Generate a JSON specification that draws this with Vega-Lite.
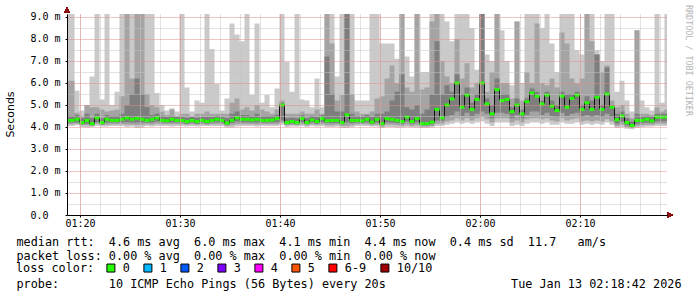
{
  "$schema": "https://vega.github.io/schema/vega-lite/v6.json",
  "width": 600,
  "height": 201,
  "autosize": {"type": "none"},
  "padding": {"left": 67, "top": 14, "right": 30, "bottom": 82},
  "background": "#ffffff",
  "config": {
    "view": {"stroke": null},
    "font": "DejaVu Sans Mono",
    "axis": {"labelFont": "DejaVu Sans Mono", "labelColor": "#000000", "titleColor": "#000000", "titleFontWeight": "normal", "labelFlush": false, "labelOverlap": false}
  },
  "data": {"values": [
    {"t":"2026-01-13T01:18:42Z","m":4.30,"lo":4.05,"ml":4.12,"dl":4.20,"dh":4.50,"mh":6.10,"hi":9.14,"loss":"0"},
    {"t":"2026-01-13T01:19:12Z","m":4.30,"lo":4.05,"ml":4.12,"dl":4.20,"dh":4.50,"mh":6.10,"hi":9.14,"loss":"0"},
    {"t":"2026-01-13T01:19:42Z","m":4.35,"lo":4.08,"ml":4.15,"dl":4.22,"dh":4.55,"mh":4.65,"hi":5.65,"loss":"0"},
    {"t":"2026-01-13T01:20:12Z","m":4.20,"lo":4.00,"ml":4.08,"dl":4.12,"dh":4.40,"mh":4.50,"hi":4.75,"loss":"0"},
    {"t":"2026-01-13T01:20:42Z","m":4.30,"lo":3.98,"ml":4.08,"dl":4.15,"dh":4.60,"mh":5.00,"hi":5.00,"loss":"0"},
    {"t":"2026-01-13T01:21:12Z","m":4.15,"lo":4.00,"ml":4.05,"dl":4.10,"dh":4.40,"mh":4.90,"hi":6.30,"loss":"0"},
    {"t":"2026-01-13T01:21:42Z","m":4.42,"lo":4.05,"ml":4.15,"dl":4.22,"dh":4.60,"mh":4.90,"hi":9.14,"loss":"0"},
    {"t":"2026-01-13T01:22:12Z","m":4.20,"lo":4.02,"ml":4.08,"dl":4.12,"dh":4.40,"mh":4.80,"hi":5.25,"loss":"0"},
    {"t":"2026-01-13T01:22:42Z","m":4.35,"lo":4.02,"ml":4.10,"dl":4.20,"dh":4.55,"mh":4.70,"hi":9.14,"loss":"0"},
    {"t":"2026-01-13T01:23:12Z","m":4.30,"lo":4.05,"ml":4.12,"dl":4.20,"dh":4.50,"mh":4.75,"hi":5.00,"loss":"0"},
    {"t":"2026-01-13T01:23:42Z","m":4.30,"lo":4.05,"ml":4.12,"dl":4.20,"dh":4.50,"mh":4.80,"hi":5.60,"loss":"0"},
    {"t":"2026-01-13T01:24:12Z","m":4.35,"lo":4.05,"ml":4.12,"dl":4.22,"dh":4.60,"mh":5.40,"hi":9.14,"loss":"0"},
    {"t":"2026-01-13T01:24:42Z","m":4.42,"lo":4.00,"ml":4.10,"dl":4.22,"dh":5.00,"mh":9.14,"hi":9.14,"loss":"0"},
    {"t":"2026-01-13T01:25:12Z","m":4.35,"lo":4.02,"ml":4.10,"dl":4.20,"dh":5.50,"mh":6.20,"hi":9.14,"loss":"0"},
    {"t":"2026-01-13T01:25:42Z","m":4.40,"lo":3.95,"ml":4.08,"dl":4.20,"dh":6.20,"mh":9.14,"hi":9.14,"loss":"0"},
    {"t":"2026-01-13T01:26:12Z","m":4.35,"lo":3.98,"ml":4.10,"dl":4.20,"dh":5.50,"mh":9.14,"hi":9.14,"loss":"0"},
    {"t":"2026-01-13T01:26:42Z","m":4.30,"lo":4.05,"ml":4.12,"dl":4.20,"dh":4.90,"mh":5.50,"hi":9.14,"loss":"0"},
    {"t":"2026-01-13T01:27:12Z","m":4.35,"lo":4.02,"ml":4.10,"dl":4.20,"dh":4.55,"mh":5.00,"hi":9.14,"loss":"0"},
    {"t":"2026-01-13T01:27:42Z","m":4.42,"lo":4.05,"ml":4.15,"dl":4.25,"dh":4.60,"mh":4.90,"hi":5.55,"loss":"0"},
    {"t":"2026-01-13T01:28:12Z","m":4.30,"lo":4.05,"ml":4.12,"dl":4.20,"dh":4.50,"mh":4.70,"hi":5.00,"loss":"0"},
    {"t":"2026-01-13T01:28:42Z","m":4.28,"lo":4.05,"ml":4.12,"dl":4.18,"dh":4.45,"mh":4.55,"hi":4.75,"loss":"0"},
    {"t":"2026-01-13T01:29:12Z","m":4.35,"lo":4.02,"ml":4.12,"dl":4.20,"dh":4.50,"mh":4.80,"hi":4.85,"loss":"0"},
    {"t":"2026-01-13T01:29:42Z","m":4.30,"lo":4.05,"ml":4.12,"dl":4.20,"dh":4.45,"mh":4.50,"hi":4.70,"loss":"0"},
    {"t":"2026-01-13T01:30:12Z","m":4.30,"lo":4.05,"ml":4.12,"dl":4.20,"dh":4.45,"mh":4.60,"hi":9.14,"loss":"0"},
    {"t":"2026-01-13T01:30:42Z","m":4.25,"lo":4.02,"ml":4.10,"dl":4.15,"dh":4.42,"mh":4.60,"hi":5.80,"loss":"0"},
    {"t":"2026-01-13T01:31:12Z","m":4.30,"lo":4.05,"ml":4.12,"dl":4.20,"dh":4.45,"mh":4.50,"hi":4.70,"loss":"0"},
    {"t":"2026-01-13T01:31:42Z","m":4.25,"lo":4.02,"ml":4.10,"dl":4.15,"dh":4.42,"mh":4.60,"hi":5.20,"loss":"0"},
    {"t":"2026-01-13T01:32:12Z","m":4.30,"lo":4.05,"ml":4.12,"dl":4.20,"dh":4.45,"mh":4.60,"hi":5.10,"loss":"0"},
    {"t":"2026-01-13T01:32:42Z","m":4.25,"lo":4.05,"ml":4.10,"dl":4.15,"dh":4.45,"mh":4.70,"hi":9.14,"loss":"0"},
    {"t":"2026-01-13T01:33:12Z","m":4.30,"lo":4.05,"ml":4.12,"dl":4.20,"dh":4.45,"mh":4.60,"hi":7.55,"loss":"0"},
    {"t":"2026-01-13T01:33:42Z","m":4.35,"lo":4.05,"ml":4.12,"dl":4.22,"dh":4.50,"mh":4.60,"hi":5.95,"loss":"0"},
    {"t":"2026-01-13T01:34:12Z","m":4.30,"lo":4.05,"ml":4.12,"dl":4.20,"dh":4.45,"mh":4.60,"hi":4.75,"loss":"0"},
    {"t":"2026-01-13T01:34:42Z","m":4.18,"lo":3.98,"ml":4.05,"dl":4.10,"dh":4.40,"mh":4.60,"hi":5.30,"loss":"0"},
    {"t":"2026-01-13T01:35:12Z","m":4.30,"lo":3.98,"ml":4.08,"dl":4.18,"dh":4.60,"mh":5.10,"hi":8.70,"loss":"0"},
    {"t":"2026-01-13T01:35:42Z","m":4.42,"lo":4.02,"ml":4.12,"dl":4.25,"dh":4.70,"mh":5.30,"hi":8.20,"loss":"0"},
    {"t":"2026-01-13T01:36:12Z","m":4.35,"lo":4.05,"ml":4.12,"dl":4.22,"dh":4.55,"mh":4.80,"hi":7.90,"loss":"0"},
    {"t":"2026-01-13T01:36:42Z","m":4.35,"lo":4.05,"ml":4.12,"dl":4.22,"dh":4.55,"mh":4.90,"hi":9.14,"loss":"0"},
    {"t":"2026-01-13T01:37:12Z","m":4.32,"lo":4.05,"ml":4.12,"dl":4.20,"dh":4.50,"mh":4.75,"hi":5.45,"loss":"0"},
    {"t":"2026-01-13T01:37:42Z","m":4.35,"lo":4.02,"ml":4.10,"dl":4.20,"dh":4.60,"mh":5.00,"hi":8.70,"loss":"0"},
    {"t":"2026-01-13T01:38:12Z","m":4.30,"lo":4.05,"ml":4.12,"dl":4.20,"dh":4.50,"mh":4.80,"hi":5.10,"loss":"0"},
    {"t":"2026-01-13T01:38:42Z","m":4.30,"lo":4.05,"ml":4.12,"dl":4.20,"dh":4.50,"mh":4.70,"hi":5.45,"loss":"0"},
    {"t":"2026-01-13T01:39:12Z","m":4.32,"lo":4.05,"ml":4.12,"dl":4.20,"dh":4.50,"mh":4.60,"hi":4.90,"loss":"0"},
    {"t":"2026-01-13T01:39:42Z","m":4.38,"lo":4.05,"ml":4.12,"dl":4.22,"dh":4.55,"mh":4.80,"hi":5.75,"loss":"0"},
    {"t":"2026-01-13T01:40:12Z","m":5.00,"lo":4.10,"ml":4.20,"dl":4.30,"dh":5.10,"mh":5.20,"hi":9.14,"loss":"0"},
    {"t":"2026-01-13T01:40:42Z","m":4.20,"lo":4.00,"ml":4.08,"dl":4.12,"dh":4.40,"mh":4.60,"hi":6.95,"loss":"0"},
    {"t":"2026-01-13T01:41:12Z","m":4.25,"lo":4.02,"ml":4.10,"dl":4.15,"dh":4.42,"mh":4.60,"hi":5.60,"loss":"0"},
    {"t":"2026-01-13T01:41:42Z","m":4.20,"lo":4.02,"ml":4.08,"dl":4.12,"dh":4.40,"mh":4.60,"hi":9.14,"loss":"0"},
    {"t":"2026-01-13T01:42:12Z","m":4.38,"lo":4.05,"ml":4.12,"dl":4.22,"dh":4.55,"mh":4.70,"hi":5.25,"loss":"0"},
    {"t":"2026-01-13T01:42:42Z","m":4.20,"lo":4.00,"ml":4.08,"dl":4.12,"dh":4.40,"mh":4.60,"hi":5.20,"loss":"0"},
    {"t":"2026-01-13T01:43:12Z","m":4.32,"lo":4.05,"ml":4.12,"dl":4.20,"dh":4.50,"mh":4.60,"hi":4.90,"loss":"0"},
    {"t":"2026-01-13T01:43:42Z","m":4.25,"lo":4.02,"ml":4.10,"dl":4.15,"dh":4.45,"mh":4.80,"hi":6.20,"loss":"0"},
    {"t":"2026-01-13T01:44:12Z","m":4.38,"lo":4.05,"ml":4.12,"dl":4.22,"dh":4.55,"mh":4.60,"hi":4.90,"loss":"0"},
    {"t":"2026-01-13T01:44:42Z","m":4.28,"lo":4.00,"ml":4.08,"dl":4.18,"dh":7.20,"mh":9.14,"hi":9.14,"loss":"0"},
    {"t":"2026-01-13T01:45:12Z","m":4.30,"lo":4.00,"ml":4.08,"dl":4.18,"dh":5.50,"mh":7.80,"hi":9.14,"loss":"0"},
    {"t":"2026-01-13T01:45:42Z","m":4.30,"lo":4.02,"ml":4.10,"dl":4.18,"dh":4.70,"mh":5.20,"hi":6.30,"loss":"0"},
    {"t":"2026-01-13T01:46:12Z","m":4.20,"lo":3.95,"ml":4.05,"dl":4.12,"dh":4.70,"mh":5.45,"hi":9.14,"loss":"0"},
    {"t":"2026-01-13T01:46:42Z","m":4.55,"lo":3.95,"ml":4.05,"dl":4.20,"dh":9.14,"mh":9.14,"hi":9.14,"loss":"0"},
    {"t":"2026-01-13T01:47:12Z","m":4.30,"lo":4.00,"ml":4.08,"dl":4.18,"dh":4.60,"mh":5.50,"hi":9.14,"loss":"0"},
    {"t":"2026-01-13T01:47:42Z","m":4.30,"lo":4.05,"ml":4.12,"dl":4.20,"dh":4.50,"mh":4.70,"hi":5.20,"loss":"0"},
    {"t":"2026-01-13T01:48:12Z","m":4.28,"lo":4.05,"ml":4.12,"dl":4.18,"dh":4.48,"mh":4.60,"hi":5.20,"loss":"0"},
    {"t":"2026-01-13T01:48:42Z","m":4.35,"lo":4.05,"ml":4.12,"dl":4.22,"dh":4.55,"mh":4.60,"hi":5.20,"loss":"0"},
    {"t":"2026-01-13T01:49:12Z","m":4.22,"lo":4.02,"ml":4.08,"dl":4.14,"dh":4.45,"mh":4.70,"hi":9.14,"loss":"0"},
    {"t":"2026-01-13T01:49:42Z","m":4.35,"lo":4.02,"ml":4.10,"dl":4.20,"dh":4.60,"mh":5.30,"hi":9.14,"loss":"0"},
    {"t":"2026-01-13T01:50:12Z","m":4.15,"lo":3.95,"ml":4.02,"dl":4.08,"dh":4.60,"mh":5.40,"hi":7.80,"loss":"0"},
    {"t":"2026-01-13T01:50:42Z","m":4.38,"lo":4.00,"ml":4.10,"dl":4.22,"dh":4.70,"mh":6.20,"hi":7.80,"loss":"0"},
    {"t":"2026-01-13T01:51:12Z","m":4.35,"lo":4.00,"ml":4.10,"dl":4.20,"dh":5.20,"mh":6.80,"hi":7.80,"loss":"0"},
    {"t":"2026-01-13T01:51:42Z","m":4.30,"lo":3.98,"ml":4.08,"dl":4.18,"dh":5.60,"mh":6.00,"hi":7.10,"loss":"0"},
    {"t":"2026-01-13T01:52:12Z","m":4.25,"lo":3.98,"ml":4.05,"dl":4.15,"dh":6.40,"mh":9.14,"hi":9.14,"loss":"0"},
    {"t":"2026-01-13T01:52:42Z","m":4.45,"lo":4.00,"ml":4.10,"dl":4.25,"dh":4.90,"mh":5.80,"hi":7.20,"loss":"0"},
    {"t":"2026-01-13T01:53:12Z","m":4.25,"lo":3.98,"ml":4.05,"dl":4.15,"dh":4.80,"mh":5.60,"hi":6.30,"loss":"0"},
    {"t":"2026-01-13T01:53:42Z","m":4.38,"lo":3.98,"ml":4.08,"dl":4.20,"dh":5.00,"mh":9.14,"hi":9.14,"loss":"0"},
    {"t":"2026-01-13T01:54:12Z","m":4.15,"lo":3.95,"ml":4.02,"dl":4.08,"dh":4.60,"mh":5.70,"hi":6.50,"loss":"0"},
    {"t":"2026-01-13T01:54:42Z","m":4.15,"lo":3.95,"ml":4.02,"dl":4.08,"dh":4.80,"mh":5.80,"hi":6.50,"loss":"0"},
    {"t":"2026-01-13T01:55:12Z","m":4.22,"lo":3.98,"ml":4.05,"dl":4.12,"dh":5.50,"mh":8.80,"hi":9.14,"loss":"0"},
    {"t":"2026-01-13T01:55:42Z","m":4.80,"lo":4.05,"ml":4.15,"dl":4.30,"dh":7.90,"mh":9.14,"hi":9.14,"loss":"0"},
    {"t":"2026-01-13T01:56:12Z","m":4.42,"lo":4.05,"ml":4.15,"dl":4.28,"dh":5.50,"mh":7.00,"hi":9.14,"loss":"0"},
    {"t":"2026-01-13T01:56:42Z","m":5.00,"lo":4.10,"ml":4.25,"dl":4.45,"dh":5.90,"mh":6.30,"hi":8.80,"loss":"0"},
    {"t":"2026-01-13T01:57:12Z","m":5.28,"lo":4.15,"ml":4.30,"dl":4.55,"dh":5.60,"mh":6.00,"hi":7.90,"loss":"0"},
    {"t":"2026-01-13T01:57:42Z","m":6.00,"lo":4.20,"ml":4.40,"dl":4.70,"dh":6.40,"mh":8.00,"hi":9.14,"loss":"0"},
    {"t":"2026-01-13T01:58:12Z","m":4.90,"lo":4.15,"ml":4.30,"dl":4.50,"dh":5.50,"mh":6.20,"hi":9.14,"loss":"0"},
    {"t":"2026-01-13T01:58:42Z","m":5.45,"lo":4.20,"ml":4.40,"dl":4.65,"dh":5.80,"mh":6.90,"hi":9.14,"loss":"0"},
    {"t":"2026-01-13T01:59:12Z","m":4.80,"lo":4.15,"ml":4.30,"dl":4.50,"dh":5.10,"mh":5.80,"hi":8.50,"loss":"0"},
    {"t":"2026-01-13T01:59:42Z","m":5.25,"lo":4.20,"ml":4.40,"dl":4.60,"dh":5.50,"mh":6.00,"hi":6.60,"loss":"0"},
    {"t":"2026-01-13T02:00:12Z","m":6.00,"lo":4.25,"ml":4.45,"dl":4.70,"dh":9.14,"mh":9.14,"hi":9.14,"loss":"0"},
    {"t":"2026-01-13T02:00:42Z","m":5.05,"lo":4.15,"ml":4.35,"dl":4.60,"dh":5.30,"mh":5.60,"hi":7.30,"loss":"0"},
    {"t":"2026-01-13T02:01:12Z","m":4.60,"lo":4.05,"ml":4.20,"dl":4.40,"dh":5.00,"mh":6.50,"hi":7.00,"loss":"0"},
    {"t":"2026-01-13T02:01:42Z","m":5.70,"lo":4.20,"ml":4.40,"dl":4.65,"dh":6.20,"mh":9.14,"hi":9.14,"loss":"0"},
    {"t":"2026-01-13T02:02:12Z","m":5.20,"lo":4.20,"ml":4.40,"dl":4.65,"dh":5.50,"mh":6.00,"hi":8.40,"loss":"0"},
    {"t":"2026-01-13T02:02:42Z","m":5.25,"lo":4.20,"ml":4.40,"dl":4.60,"dh":5.50,"mh":6.00,"hi":7.00,"loss":"0"},
    {"t":"2026-01-13T02:03:12Z","m":4.70,"lo":4.05,"ml":4.20,"dl":4.40,"dh":4.90,"mh":5.30,"hi":5.90,"loss":"0"},
    {"t":"2026-01-13T02:03:42Z","m":5.00,"lo":4.10,"ml":4.30,"dl":4.55,"dh":5.30,"mh":8.80,"hi":8.80,"loss":"0"},
    {"t":"2026-01-13T02:04:12Z","m":4.60,"lo":4.05,"ml":4.20,"dl":4.40,"dh":4.80,"mh":5.20,"hi":6.00,"loss":"0"},
    {"t":"2026-01-13T02:04:42Z","m":5.15,"lo":4.15,"ml":4.35,"dl":4.55,"dh":5.30,"mh":6.50,"hi":9.14,"loss":"0"},
    {"t":"2026-01-13T02:05:12Z","m":5.55,"lo":4.20,"ml":4.40,"dl":4.70,"dh":5.75,"mh":6.00,"hi":9.14,"loss":"0"},
    {"t":"2026-01-13T02:05:42Z","m":5.40,"lo":4.20,"ml":4.40,"dl":4.70,"dh":5.60,"mh":8.70,"hi":9.14,"loss":"0"},
    {"t":"2026-01-13T02:06:12Z","m":5.05,"lo":4.15,"ml":4.35,"dl":4.55,"dh":5.20,"mh":6.00,"hi":8.50,"loss":"0"},
    {"t":"2026-01-13T02:06:42Z","m":5.45,"lo":4.20,"ml":4.40,"dl":4.65,"dh":5.60,"mh":5.90,"hi":9.14,"loss":"0"},
    {"t":"2026-01-13T02:07:12Z","m":4.95,"lo":4.10,"ml":4.30,"dl":4.50,"dh":5.20,"mh":6.20,"hi":7.80,"loss":"0"},
    {"t":"2026-01-13T02:07:42Z","m":4.75,"lo":4.10,"ml":4.25,"dl":4.45,"dh":5.00,"mh":5.80,"hi":6.50,"loss":"0"},
    {"t":"2026-01-13T02:08:12Z","m":5.40,"lo":4.20,"ml":4.40,"dl":4.65,"dh":5.60,"mh":8.30,"hi":9.14,"loss":"0"},
    {"t":"2026-01-13T02:08:42Z","m":4.90,"lo":4.15,"ml":4.30,"dl":4.50,"dh":5.50,"mh":7.80,"hi":9.14,"loss":"0"},
    {"t":"2026-01-13T02:09:12Z","m":5.30,"lo":4.15,"ml":4.35,"dl":4.60,"dh":5.50,"mh":6.20,"hi":9.14,"loss":"0"},
    {"t":"2026-01-13T02:09:42Z","m":5.45,"lo":4.20,"ml":4.40,"dl":4.65,"dh":5.60,"mh":6.00,"hi":7.50,"loss":"0"},
    {"t":"2026-01-13T02:10:12Z","m":4.80,"lo":4.10,"ml":4.25,"dl":4.45,"dh":5.00,"mh":6.20,"hi":7.30,"loss":"0"},
    {"t":"2026-01-13T02:10:42Z","m":5.10,"lo":4.15,"ml":4.30,"dl":4.55,"dh":5.40,"mh":9.14,"hi":9.14,"loss":"0"},
    {"t":"2026-01-13T02:11:12Z","m":4.80,"lo":4.10,"ml":4.25,"dl":4.45,"dh":5.20,"mh":7.90,"hi":9.14,"loss":"0"},
    {"t":"2026-01-13T02:11:42Z","m":5.35,"lo":4.15,"ml":4.30,"dl":4.55,"dh":7.30,"mh":7.30,"hi":7.50,"loss":"0"},
    {"t":"2026-01-13T02:12:12Z","m":4.80,"lo":4.10,"ml":4.25,"dl":4.45,"dh":5.00,"mh":6.50,"hi":7.00,"loss":"0"},
    {"t":"2026-01-13T02:12:42Z","m":5.50,"lo":4.20,"ml":4.35,"dl":4.60,"dh":6.70,"mh":6.80,"hi":9.14,"loss":"0"},
    {"t":"2026-01-13T02:13:12Z","m":4.90,"lo":4.10,"ml":4.25,"dl":4.45,"dh":5.00,"mh":5.20,"hi":9.14,"loss":"0"},
    {"t":"2026-01-13T02:13:42Z","m":4.33,"lo":3.95,"ml":4.05,"dl":4.15,"dh":4.60,"mh":4.90,"hi":5.60,"loss":"0"},
    {"t":"2026-01-13T02:14:12Z","m":4.50,"lo":4.00,"ml":4.10,"dl":4.25,"dh":4.70,"mh":5.00,"hi":6.10,"loss":"0"},
    {"t":"2026-01-13T02:14:42Z","m":4.20,"lo":3.92,"ml":4.00,"dl":4.08,"dh":4.40,"mh":4.60,"hi":5.20,"loss":"0"},
    {"t":"2026-01-13T02:15:12Z","m":4.07,"lo":3.90,"ml":3.95,"dl":4.00,"dh":4.25,"mh":4.40,"hi":4.70,"loss":"0"},
    {"t":"2026-01-13T02:15:42Z","m":4.30,"lo":3.95,"ml":4.05,"dl":4.15,"dh":4.60,"mh":8.40,"hi":8.40,"loss":"0"},
    {"t":"2026-01-13T02:16:12Z","m":4.30,"lo":4.00,"ml":4.08,"dl":4.18,"dh":4.45,"mh":4.60,"hi":5.20,"loss":"0"},
    {"t":"2026-01-13T02:16:42Z","m":4.35,"lo":4.02,"ml":4.10,"dl":4.20,"dh":4.50,"mh":4.60,"hi":4.90,"loss":"0"},
    {"t":"2026-01-13T02:17:12Z","m":4.28,"lo":4.02,"ml":4.10,"dl":4.18,"dh":4.45,"mh":4.55,"hi":4.75,"loss":"0"},
    {"t":"2026-01-13T02:17:42Z","m":4.45,"lo":4.05,"ml":4.15,"dl":4.25,"dh":4.60,"mh":4.90,"hi":9.14,"loss":"0"},
    {"t":"2026-01-13T02:18:12Z","m":4.45,"lo":4.05,"ml":4.15,"dl":4.25,"dh":4.60,"mh":4.70,"hi":5.10,"loss":"0"},
    {"t":"2026-01-13T02:18:42Z","m":4.45,"lo":4.05,"ml":4.15,"dl":4.25,"dh":4.60,"mh":4.80,"hi":9.14,"loss":"0"}
  ]},
  "layer": [
    {
      "mark": {"type": "area", "interpolate": "step", "color": "#cacaca", "clip": true},
      "encoding": {
        "x": {"field": "t", "type": "temporal",
          "scale": {"type": "utc", "domain": [1768267122000, 1768270722000], "nice": false},
          "axis": {"orient": "bottom", "grid": true, "gridColor": "#c4c4c4", "gridDash": [1, 1],
            "values": [1768267200000, 1768267320000, 1768267440000, 1768267560000, 1768267680000, 1768267800000, 1768267920000, 1768268040000, 1768268160000, 1768268280000, 1768268400000, 1768268520000, 1768268640000, 1768268760000, 1768268880000, 1768269000000, 1768269120000, 1768269240000, 1768269360000, 1768269480000, 1768269600000, 1768269720000, 1768269840000, 1768269960000, 1768270080000, 1768270200000, 1768270320000, 1768270440000, 1768270560000, 1768270680000],
            "labels": false, "ticks": false, "domain": false, "title": null, "zindex": 1}},
        "y": {"field": "lo", "type": "quantitative",
          "scale": {"domain": [0, 9.13636], "nice": false, "zero": true},
          "axis": {"orient": "left", "grid": true, "gridColor": "#c4c4c4", "gridDash": [1, 1], "values": [0.5, 1.5, 2.5, 3.5, 4.5, 5.5, 6.5, 7.5, 8.5], "labels": false, "ticks": false, "domain": false, "title": null, "zindex": 1}},
        "y2": {"field": "hi"}
      }
    },
    {
      "mark": {"type": "area", "interpolate": "step", "color": "#a4a4a4", "clip": true},
      "encoding": {
        "x": {"field": "t", "type": "temporal",
          "axis": {"orient": "bottom", "grid": false, "labels": false, "ticks": false, "domain": false,
            "title": "Tue Jan 13 02:18:42 2026", "titleX": 614, "titleY": 72, "titleAlign": "right", "titleBaseline": "alphabetic", "titleFont": "DejaVu Sans Mono", "titleFontSize": 11.8, "titleFontWeight": "normal", "titleColor": "#000000"}},
        "y": {"field": "ml", "type": "quantitative",
          "axis": {"orient": "right", "grid": false, "labels": false, "ticks": false, "domain": false,
            "title": "RRDTOOL / TOBI OETIKER", "titleAngle": 90, "titleX": 21, "titleY": 46, "titleAlign": "center", "titleBaseline": "middle", "titleFont": "DejaVu Sans Mono", "titleFontSize": 8.4, "titleFontWeight": "normal", "titleColor": "#b4b4b4"}},
        "y2": {"field": "mh"}
      }
    },
    {
      "mark": {"type": "area", "interpolate": "step", "color": "#7e7e7e", "clip": true},
      "encoding": {
        "x": {"field": "t", "type": "temporal",
          "axis": {"orient": "bottom", "grid": false, "labels": false, "ticks": false, "domain": false,
            "title": "probe:\u00a0\u00a0\u00a0\u00a0\u00a0\u00a0\u00a010 ICMP Echo Pings (56 Bytes) every 20s", "titleX": -51, "titleY": 72, "titleAlign": "left", "titleBaseline": "alphabetic", "titleFont": "DejaVu Sans Mono", "titleFontSize": 11.8, "titleFontWeight": "normal", "titleColor": "#000000"}},
        "y": {"field": "dl", "type": "quantitative", "axis": null},
        "y2": {"field": "dh"}
      }
    },
    {
      "mark": {"type": "line", "interpolate": "step", "color": "#101010", "strokeWidth": 1, "clip": true},
      "encoding": {
        "x": {"field": "t", "type": "temporal",
          "axis": {"orient": "bottom", "grid": true, "gridColor": "#e08c8c", "gridDash": [1, 1],
            "values": [1768267200000, 1768267800000, 1768268400000, 1768269000000, 1768269600000, 1768270200000], "format": "%H:%M",
            "labelFontSize": 10, "labelPadding": 1, "tickSize": 2, "tickColor": "#000000", "domainColor": "#000000", "zindex": 1,
            "title": ["median rtt:\u00a0\u00a04.6 ms avg\u00a0\u00a06.0 ms max\u00a0\u00a04.1 ms min\u00a0\u00a04.4 ms now\u00a0\u00a00.4 ms sd\u00a0\u00a011.7\u00a0\u00a0\u00a0am/s", "packet loss: 0.00 % avg\u00a0\u00a00.00 % max\u00a0\u00a00.00 % min\u00a0\u00a00.00 % now"],
            "titleX": -51, "titleY": 21, "titleAlign": "left", "titleBaseline": "top", "titleLineHeight": 14, "titleFont": "DejaVu Sans Mono", "titleFontSize": 11.8}},
        "y": {"field": "m", "type": "quantitative",
          "axis": {"orient": "left", "grid": true, "gridColor": "#e08c8c", "gridDash": [1, 1], "values": [0, 1, 2, 3, 4, 5, 6, 7, 8, 9],
            "labelExpr": "datum.value == 0 ? '0.0' : format(datum.value, '.1f') + ' m'", "labelAlign": "left", "labelPadding": 35, "tickSize": 2, "tickColor": "#000000", "labelFontSize": 10, "domainColor": "#000000", "zindex": 1,
            "title": "Seconds", "titleFont": "DejaVu Sans", "titleFontSize": 11, "titleAngle": 270, "titleX": -57, "titleY": 100, "titleAlign": "center", "titleBaseline": "middle"}}
      }
    },
    {
      "mark": {"type": "tick", "orient": "horizontal", "size": 5, "thickness": 3, "opacity": 1, "clip": true},
      "encoding": {
        "x": {"field": "t", "type": "temporal", "axis": null},
        "y": {"field": "m", "type": "quantitative", "axis": null},
        "color": {"field": "loss", "type": "nominal",
          "scale": {"domain": ["0", "1", "2", "3", "4", "5", "6-9", "10/10"], "range": ["#26ff00", "#00b8ff", "#0059ff", "#7e00ff", "#ff00ff", "#ff5500", "#ff0000", "#a10000"]},
          "legend": {"orient": "none", "legendX": -51, "legendY": 248, "direction": "horizontal", "title": "loss color:", "titleOrient": "left", "titleFont": "DejaVu Sans Mono", "titleFontSize": 11.8, "titleFontWeight": "normal", "titleColor": "#000000", "titlePadding": 10, "titleBaseline": "middle",
            "labelFont": "DejaVu Sans Mono", "labelFontSize": 11.8, "labelColor": "#000000", "labelOffset": 6, "symbolType": "square", "symbolSize": 64, "symbolStrokeColor": "#000000", "symbolStrokeWidth": 1, "symbolOpacity": 1, "columnPadding": 11, "padding": 0}}
      }
    },
    {
      "mark": {"type": "point", "shape": "triangle-up", "filled": true, "size": 30, "color": "#8b1010", "opacity": 1, "clip": false},
      "encoding": {
        "x": {"datum": 1768267122000, "type": "temporal", "scale": {"type": "utc", "domain": [1768267122000, 1768270722000], "nice": false}, "axis": null},
        "y": {"datum": 9.32, "type": "quantitative", "scale": {"domain": [0, 9.13636], "nice": false, "zero": true}, "axis": null}
      }
    },
    {
      "mark": {"type": "point", "shape": "triangle-right", "filled": true, "size": 30, "color": "#8b1010", "opacity": 1, "clip": false},
      "encoding": {
        "x": {"datum": 1768270740000, "type": "temporal", "scale": {"type": "utc", "domain": [1768267122000, 1768270722000], "nice": false}, "axis": null},
        "y": {"datum": 0, "type": "quantitative", "scale": {"domain": [0, 9.13636], "nice": false, "zero": true}, "axis": null}
      }
    }
  ],
  "resolve": {"axis": {"x": "independent", "y": "independent"}}
}
